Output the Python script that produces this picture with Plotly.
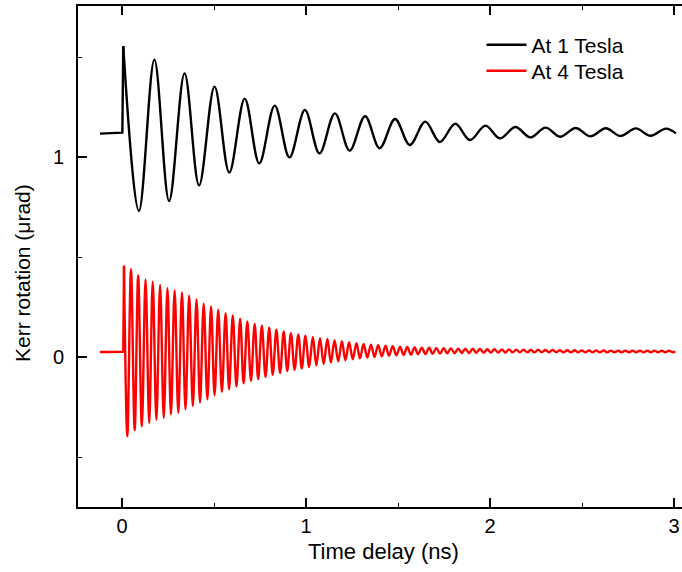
import plotly.graph_objects as go

# ---- data (time in ns, Kerr rotation in µrad) ----
SERIES_NAMES = ["At 1 Tesla", "At 4 Tesla"]
X_TICKS = [0, 1, 2, 3]
Y_TICKS = [0, 1]
X_MINOR = [0.5, 1.5, 2.5]
Y_MINOR = [-0.5, 0.5, 1.5]

# 1 Tesla: baseline before pump and step to first maximum
BLACK_PRE_T = [-0.120, 0.002, 0.007]
BLACK_PRE_V = [1.117, 1.122, 1.555]
# 1 Tesla: successive extrema of the precession
BLACK_T = [0.007, 0.092, 0.176, 0.256, 0.340, 0.419, 0.503, 0.583, 0.667, 0.746,
           0.830, 0.910, 0.994, 1.073, 1.157, 1.237, 1.321, 1.400, 1.484, 1.564,
           1.648, 1.727, 1.811, 1.891, 1.975, 2.054, 2.138, 2.218, 2.302, 2.381,
           2.465, 2.545, 2.629, 2.708, 2.792, 2.872, 2.956, 3.010]
BLACK_V = [1.555, 0.730, 1.487, 0.780, 1.418, 0.858, 1.352, 0.922, 1.292, 0.968,
           1.257, 0.998, 1.235, 1.018, 1.218, 1.032, 1.204, 1.044, 1.190, 1.060,
           1.177, 1.075, 1.166, 1.085, 1.157, 1.093, 1.150, 1.098, 1.147, 1.101,
           1.145, 1.103, 1.144, 1.105, 1.143, 1.106, 1.142, 1.118]

# 4 Tesla: baseline before pump and step to first maximum
RED_PRE_T = [-0.120, 0.007, 0.011]
RED_PRE_V = [0.025, 0.026, 0.456]
# 4 Tesla: successive extrema of the precession
RED_T = [0.011, 0.029, 0.049, 0.069, 0.088, 0.108, 0.128, 0.148, 0.167, 0.187,
         0.207, 0.227, 0.247, 0.266, 0.286, 0.306, 0.326, 0.345, 0.365, 0.385,
         0.405, 0.424, 0.444, 0.464, 0.484, 0.503, 0.523, 0.543, 0.563, 0.582,
         0.602, 0.622, 0.642, 0.661, 0.681, 0.701, 0.721, 0.740, 0.760, 0.780,
         0.800, 0.819, 0.839, 0.859, 0.879, 0.898, 0.918, 0.938, 0.958, 0.977,
         0.997, 1.017, 1.037, 1.056, 1.076, 1.096, 1.116, 1.135, 1.155, 1.175,
         1.195, 1.214, 1.234, 1.254, 1.274, 1.293, 1.313, 1.333, 1.353, 1.372,
         1.392, 1.412, 1.432, 1.451, 1.471, 1.491, 1.511, 1.530, 1.550, 1.570,
         1.590, 1.609, 1.629, 1.649, 1.669, 1.688, 1.708, 1.728, 1.748, 1.767,
         1.787, 1.807, 1.827, 1.846, 1.866, 1.886, 1.906, 1.925, 1.945, 1.965,
         1.985, 2.004, 2.024, 2.044, 2.064, 2.083, 2.103, 2.123, 2.143, 2.162,
         2.182, 2.202, 2.222, 2.241, 2.261, 2.281, 2.301, 2.320, 2.340, 2.360,
         2.380, 2.399, 2.419, 2.439, 2.459, 2.478, 2.498, 2.518, 2.538, 2.557,
         2.577, 2.597, 2.617, 2.636, 2.656, 2.676, 2.696, 2.715, 2.735, 2.755,
         2.775, 2.794, 2.814, 2.834, 2.854, 2.873, 2.893, 2.913, 2.933, 2.952,
         2.972, 2.992, 3.006]
RED_V = [0.456, -0.397, 0.439, -0.366, 0.408, -0.347, 0.388, -0.330, 0.376, -0.314,
         0.360, -0.304, 0.344, -0.287, 0.333, -0.279, 0.323, -0.262, 0.306, -0.244,
         0.288, -0.227, 0.266, -0.211, 0.253, -0.191, 0.236, -0.174, 0.219, -0.162,
         0.208, -0.148, 0.192, -0.132, 0.178, -0.119, 0.165, -0.110, 0.156, -0.100,
         0.146, -0.089, 0.136, -0.080, 0.128, -0.070, 0.119, -0.064, 0.113, -0.057,
         0.107, -0.050, 0.100, -0.042, 0.094, -0.035, 0.090, -0.028, 0.084, -0.022,
         0.079, -0.016, 0.074, -0.011, 0.069, -0.007, 0.065, -0.003, 0.062, 0.000,
         0.059, 0.003, 0.056, 0.006, 0.054, 0.008, 0.052, 0.010, 0.050, 0.012,
         0.048, 0.014, 0.047, 0.015, 0.046, 0.016, 0.045, 0.017, 0.044, 0.018,
         0.043, 0.019, 0.042, 0.020, 0.041, 0.020, 0.041, 0.021, 0.040, 0.021,
         0.039, 0.022, 0.039, 0.022, 0.038, 0.022, 0.038, 0.023, 0.037, 0.023,
         0.037, 0.023, 0.036, 0.023, 0.036, 0.024, 0.035, 0.024, 0.035, 0.024,
         0.034, 0.023, 0.034, 0.023, 0.034, 0.023, 0.033, 0.023, 0.033, 0.023,
         0.033, 0.023, 0.033, 0.023, 0.032, 0.023, 0.032, 0.023, 0.032, 0.023,
         0.032, 0.023, 0.032, 0.024, 0.032, 0.024, 0.032, 0.024, 0.031, 0.024,
         0.031, 0.024, 0.028]

X_TITLE = "Time delay (ns)"
Y_TITLE = "Kerr rotation (μrad)"

FONT = "Liberation Sans, Arial, Helvetica, sans-serif"
BLACK = "#000000"
RED = "#ff0000"

fig = go.Figure()

# lead-in segments (linear), grouped with their series
fig.add_trace(go.Scatter(x=BLACK_PRE_T, y=BLACK_PRE_V, mode="lines",
                         line=dict(color=BLACK, width=2.4),
                         legendgroup="b", showlegend=False, hoverinfo="skip"))
fig.add_trace(go.Scatter(x=RED_PRE_T, y=RED_PRE_V, mode="lines",
                         line=dict(color=RED, width=2.4),
                         legendgroup="r", showlegend=False, hoverinfo="skip",
                         legend="legend2"))
# precession (smoothed through the extrema)
fig.add_trace(go.Scatter(x=BLACK_T, y=BLACK_V, mode="lines", name=SERIES_NAMES[0],
                         line=dict(color=BLACK, width=2.4, shape="spline", smoothing=1.0),
                         legendgroup="b", legend="legend"))
fig.add_trace(go.Scatter(x=RED_T, y=RED_V, mode="lines", name=SERIES_NAMES[1],
                         line=dict(color=RED, width=2.4, shape="spline", smoothing=1.0),
                         legendgroup="r", legend="legend2"))

legend_common = dict(xanchor="left", yanchor="top", bgcolor="rgba(0,0,0,0)",
                     borderwidth=0, font=dict(family=FONT, size=21, color="black"),
                     tracegroupgap=0, itemwidth=40)

fig.update_layout(
    width=682, height=572,
    margin=dict(l=78, r=0, t=6, b=65),
    paper_bgcolor="white", plot_bgcolor="white",
    font=dict(family=FONT, size=20, color="black"),
    showlegend=True,
    legend=dict(x=0.668, y=0.963, **legend_common),
    legend2=dict(x=0.668, y=0.911, **legend_common),
    xaxis=dict(range=[-0.239, 3.043], showgrid=False, zeroline=False,
               showline=True, linecolor="black", linewidth=2, mirror="ticks",
               ticks="inside", ticklen=9, tickwidth=1.5, tickcolor="black",
               tickvals=X_TICKS, ticktext=[str(v) for v in X_TICKS],
               ticklabelstandoff=0,
               minor=dict(tickvals=X_MINOR, ticks="inside", ticklen=4,
                          tickwidth=1.2, tickcolor="black", showgrid=False)),
    yaxis=dict(range=[-0.75, 1.755], showgrid=False, zeroline=False,
               showline=True, linecolor="black", linewidth=2, mirror=False,
               ticks="inside", ticklen=9, tickwidth=1.5, tickcolor="black",
               tickvals=Y_TICKS, ticktext=[str(v) for v in Y_TICKS],
               ticklabelstandoff=8,
               minor=dict(tickvals=Y_MINOR, ticks="inside", ticklen=4,
                          tickwidth=1.2, tickcolor="black", showgrid=False)),
    annotations=[
        dict(text=X_TITLE, xref="paper", yref="paper", x=0.5066, y=-0.0898,
             xanchor="center", yanchor="middle", showarrow=False,
             font=dict(family=FONT, size=22, color="black")),
        dict(text=Y_TITLE, xref="paper", yref="paper", x=-0.0927, y=0.467,
             xanchor="center", yanchor="middle", showarrow=False, textangle=-90,
             font=dict(family=FONT, size=21, color="black")),
    ],
)

fig.write_html("out.html")
